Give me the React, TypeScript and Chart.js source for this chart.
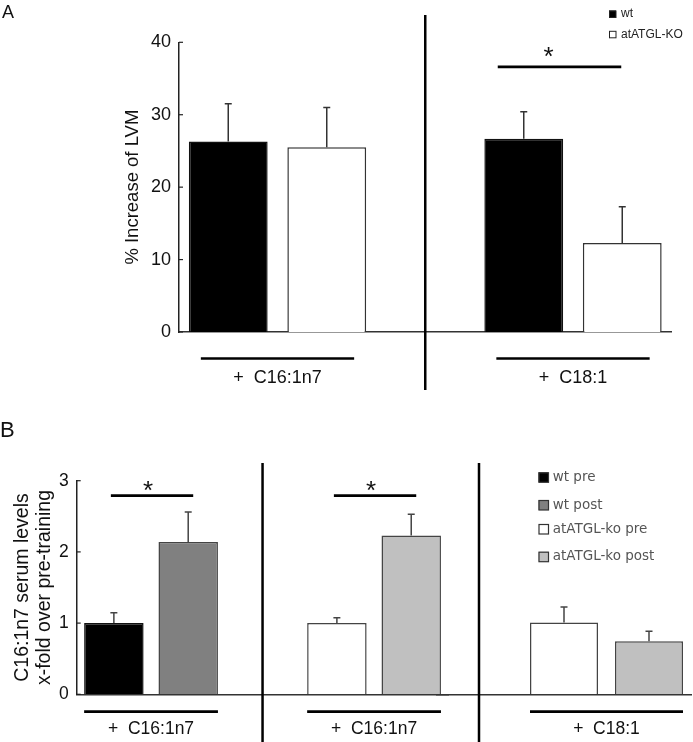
import React, { useEffect, useRef } from "react";
import { Chart, registerables } from "chart.js";

Chart.register(...registerables);

const SANS = "'Liberation Sans', Arial, Helvetica, sans-serif";
const VERD = "'DejaVu Sans', Verdana, sans-serif";

// ---------- Panel A data ----------
const groupsA = ["+  C16:1n7", "+  C18:1"];
const seriesA = ["wt", "atATGL-KO"];
const wtA = [26.3, 26.7];
const wtErrA = [5.2, 3.7];
const koA = [25.5, 12.3];
const koErrA = [5.5, 5.0];
const yTicksA = [0, 10, 20, 30, 40];
const yTitleA = "% Increase of LVM";
const sigGroupsA = [1];
const sigLevelA = 36.6;

// ---------- Panel B data ----------
const groupsB = ["+  C16:1n7", "+  C16:1n7", "+  C18:1"];
const seriesB = ["wt pre", "wt post", "atATGL-ko pre", "atATGL-ko post"];
const genotypeB = [0, 1, 1]; // 0 = wt, 1 = atATGL-ko
const preB = [1.0, 1.0, 1.01];
const preErrB = [0.145, 0.075, 0.215];
const postB = [2.14, 2.23, 0.745];
const postErrB = [0.42, 0.3, 0.14];
const yTicksB = [0, 1, 2, 3];
const yTitleB = ["C16:1n7 serum levels", "x-fold over pre-training"];
const sigGroupsB = [0, 1];
const sigLevelB = 2.79;

// ---------- colours ----------
const fillA = ["#000000", "#ffffff"];
const fillB = ["#000000", "#808080", "#ffffff", "#c0c0c0"];

type Slot = { label: string; value: number | null; err: number; fill: string };
type Group = { label: string; first: number; second: number; sig: boolean };

const GAP: Slot = { label: "", value: null, err: 0, fill: "#ffffff" };

// Build panel A slots: [wt, ko, gap, wt, ko]
const slotsA: Slot[] = [];
const groupDefsA: Group[] = [];
groupsA.forEach((g, gi) => {
  if (gi > 0) slotsA.push(GAP);
  const first = slotsA.length;
  slotsA.push({ label: `${seriesA[0]} ${g}`, value: wtA[gi], err: wtErrA[gi], fill: fillA[0] });
  slotsA.push({ label: `${seriesA[1]} ${g}`, value: koA[gi], err: koErrA[gi], fill: fillA[1] });
  groupDefsA.push({ label: g, first, second: first + 1, sig: sigGroupsA.includes(gi) });
});

function groupSlotsB(indices: number[], leadingGap: boolean) {
  const slots: Slot[] = [];
  const groups: Group[] = [];
  if (leadingGap) slots.push(GAP);
  indices.forEach((gi, k) => {
    if (k > 0) slots.push(GAP);
    const gt = genotypeB[gi];
    const first = slots.length;
    slots.push({ label: `${seriesB[gt * 2]} ${groupsB[gi]}`, value: preB[gi], err: preErrB[gi], fill: fillB[gt * 2] });
    slots.push({ label: `${seriesB[gt * 2 + 1]} ${groupsB[gi]}`, value: postB[gi], err: postErrB[gi], fill: fillB[gt * 2 + 1] });
    groups.push({ label: groupsB[gi], first, second: first + 1, sig: sigGroupsB.includes(gi) });
  });
  return { slots, groups };
}

interface PanelSpec {
  slots: Slot[];
  groups: Group[];
  yMax: number;
  yTicks: number[];
  showY: boolean;
  yTitle?: string | string[];
  yTitleSize?: number;
  yTitleLH?: number;
  yTitlePad?: number;
  yWidth?: number;
  pad: { left: number; right: number; top: number; bottom: number };
  tickFont: number;
  labelFont: number;
  groupLineDy: number;
  groupTextDy: number;
  groupLineInset: number;
  sigLevel: number;
  sigExt: [number, number];
  starDx: number;
  starDy: number;
  dividers: { slot: number; top: number; bottom: number }[];
  errColor: string;
  barStroke: string;
  extra?: (ctx: CanvasRenderingContext2D, chart: any) => void;
}

function makePanel(canvas: HTMLCanvasElement, p: PanelSpec) {
  const decor = {
    id: "decor",
    afterDraw(chart: any) {
      const ctx: CanvasRenderingContext2D = chart.ctx;
      const meta = chart.getDatasetMeta(0);
      const ys = chart.scales.y;
      const xs = chart.scales.x;
      const area = chart.chartArea;
      ctx.save();
      // inward tick marks
      if (p.showY) {
        ctx.strokeStyle = "#222";
        ctx.lineWidth = 1.2;
        ys.ticks.forEach((t: any) => {
          const y = ys.getPixelForValue(t.value);
          ctx.beginPath();
          ctx.moveTo(area.left, y);
          ctx.lineTo(area.left + 4, y);
          ctx.stroke();
        });
      }
      // error bars (upper only)
      ctx.strokeStyle = p.errColor;
      ctx.lineWidth = 1.5;
      p.slots.forEach((s, i) => {
        if (s.value == null) return;
        const bar = meta.data[i];
        const yBar = ys.getPixelForValue(s.value);
        const yTop = ys.getPixelForValue(s.value + s.err);
        ctx.beginPath();
        ctx.moveTo(bar.x, yBar);
        ctx.lineTo(bar.x, yTop);
        ctx.moveTo(bar.x - 3.5, yTop);
        ctx.lineTo(bar.x + 3.5, yTop);
        ctx.stroke();
      });
      // dividers
      ctx.strokeStyle = "#000";
      ctx.lineWidth = 2.5;
      p.dividers.forEach((d) => {
        const x = xs.getPixelForValue(d.slot);
        ctx.beginPath();
        ctx.moveTo(x, d.top);
        ctx.lineTo(x, d.bottom);
        ctx.stroke();
      });
      // group labels and significance
      p.groups.forEach((g) => {
        const b1 = meta.data[g.first];
        const b2 = meta.data[g.second];
        const l = b1.x - b1.width / 2 + p.groupLineInset;
        const r = b2.x + b2.width / 2 - p.groupLineInset;
        const ly = area.bottom + p.groupLineDy;
        ctx.strokeStyle = "#000";
        ctx.lineWidth = 2.7;
        ctx.beginPath();
        ctx.moveTo(l, ly);
        ctx.lineTo(r, ly);
        ctx.stroke();
        ctx.fillStyle = "#111";
        ctx.font = `${p.labelFont}px ${SANS}`;
        ctx.textAlign = "center";
        ctx.textBaseline = "middle";
        ctx.fillText(g.label, (b1.x + b2.x) / 2, area.bottom + p.groupTextDy);
        if (g.sig) {
          const sy = ys.getPixelForValue(p.sigLevel);
          const sl = b1.x + p.sigExt[0];
          const sr = b2.x + p.sigExt[1];
          ctx.lineWidth = 2.7;
          ctx.beginPath();
          ctx.moveTo(sl, sy);
          ctx.lineTo(sr, sy);
          ctx.stroke();
          ctx.font = `26px ${SANS}`;
          ctx.textBaseline = "alphabetic";
          ctx.fillText("*", (sl + sr) / 2 + p.starDx, sy + p.starDy);
        }
      });
      if (p.extra) p.extra(ctx, chart);
      ctx.restore();
    },
  };

  return new Chart(canvas, {
    type: "bar",
    data: {
      labels: p.slots.map((s) => s.label),
      datasets: [
        {
          data: p.slots.map((s) => s.value) as any,
          backgroundColor: p.slots.map((s) => s.fill),
          borderColor: p.slots.map((s) => (s.fill === "#000000" ? "#111" : p.barStroke)),
          borderWidth: 1.5,
          barPercentage: 0.8,
          categoryPercentage: 1,
        },
      ],
    },
    options: {
      responsive: false,
      animation: false,
      devicePixelRatio: 1,
      events: [],
      layout: { padding: p.pad },
      plugins: { legend: { display: false }, tooltip: { enabled: false } },
      scales: {
        x: {
          display: true,
          grid: { display: false, drawTicks: false },
          border: { display: true, color: "#333", width: 1.5 },
          ticks: { display: false },
          afterFit: (s: any) => {
            s.height = 0;
          },
        },
        y: {
          display: p.showY,
          min: 0,
          max: p.yMax,
          afterBuildTicks: (s: any) => {
            s.ticks = p.yTicks.map((v) => ({ value: v }));
          },
          grid: { display: false, drawTicks: false },
          border: { display: true, color: "#222", width: 1.5 },
          ticks: { padding: 8, color: "#111", font: { family: SANS, size: p.tickFont } },
          title: {
            display: !!p.yTitle,
            text: p.yTitle as any,
            color: "#111",
            font: { family: SANS, size: p.yTitleSize || 16, lineHeight: p.yTitleLH || 1.2 },
            padding: { top: p.yTitlePad || 0, bottom: 0 },
          },
          afterFit: (s: any) => {
            if (p.yWidth != null) s.width = p.yWidth;
          },
        },
      },
    } as any,
    plugins: [decor],
  });
}

export default function App() {
  const refA = useRef<HTMLCanvasElement>(null);
  const refB1 = useRef<HTMLCanvasElement>(null);
  const refB3 = useRef<HTMLCanvasElement>(null);

  useEffect(() => {
    const charts: Chart[] = [];

    // Panel A
    charts.push(
      makePanel(refA.current!, {
        slots: slotsA,
        groups: groupDefsA,
        yMax: 40,
        yTicks: yTicksA,
        showY: true,
        yTitle: yTitleA,
        yTitleSize: 18.5,
        yTitlePad: 122,
        yWidth: 179,
        pad: { left: 0, right: 21.5, top: 42.3, bottom: 68 },
        tickFont: 18,
        labelFont: 18,
        groupLineDy: 26.5,
        groupTextDy: 46,
        groupLineInset: 12,
        sigLevel: sigLevelA,
        sigExt: [-26, -1],
        starDx: -11,
        starDy: -2,
        dividers: [{ slot: 2, top: 15, bottom: 390 }],
        errColor: "#333",
        barStroke: "#333",
        extra: (ctx) => {
          ctx.fillStyle = "#111";
          ctx.font = `18px ${SANS}`;
          ctx.textAlign = "left";
          ctx.textBaseline = "alphabetic";
          ctx.fillText("A", 2, 17.5);
          seriesA.forEach((s, i) => {
            const yc = 14 + i * 20.3;
            ctx.fillStyle = fillA[i];
            ctx.fillRect(609, yc - 3.5, 7, 7);
            ctx.strokeStyle = "#222";
            ctx.lineWidth = 1;
            ctx.strokeRect(609.5, yc - 3, 6.5, 6.5);
            ctx.fillStyle = "#222";
            ctx.font = `12px ${SANS}`;
            ctx.textBaseline = "middle";
            ctx.fillText(s, 621, yc);
          });
        },
      })
    );

    // Panel B, first two groups
    const b1 = groupSlotsB([0, 1], false);
    charts.push(
      makePanel(refB1.current!, {
        slots: b1.slots,
        groups: b1.groups,
        yMax: 3,
        yTicks: yTicksB,
        showY: true,
        yTitle: yTitleB,
        yTitleSize: 19.5,
        yTitleLH: 1.15,
        yTitlePad: 11,
        yWidth: 76.7,
        pad: { left: 0, right: 244.6, top: 80.7, bottom: 47.7 },
        tickFont: 17.5,
        labelFont: 17.5,
        groupLineDy: 17.4,
        groupTextDy: 35,
        groupLineInset: 0,
        sigLevel: sigLevelB,
        sigExt: [-3, 5],
        starDx: -4,
        starDy: 3,
        dividers: [{ slot: 2, top: 63, bottom: 342 }],
        errColor: "#444",
        barStroke: "#444",
        extra: (ctx) => {
          ctx.fillStyle = "#111";
          ctx.font = `22px ${SANS}`;
          ctx.textAlign = "left";
          ctx.textBaseline = "alphabetic";
          ctx.fillText("B", 0, 36.7);
        },
      })
    );

    // Panel B, third group
    const b3 = groupSlotsB([2], true);
    charts.push(
      makePanel(refB3.current!, {
        slots: b3.slots,
        groups: b3.groups,
        yMax: 3,
        yTicks: yTicksB,
        showY: false,
        pad: { left: 436.5, right: 1.5, top: 80.7, bottom: 47.7 },
        tickFont: 17.5,
        labelFont: 17.5,
        groupLineDy: 17.4,
        groupTextDy: 35,
        groupLineInset: 0,
        sigLevel: sigLevelB,
        sigExt: [-3, 5],
        starDx: -4,
        starDy: 3,
        dividers: [{ slot: 0, top: 63, bottom: 342 }],
        errColor: "#444",
        barStroke: "#444",
        extra: (ctx) => {
          const ycs = [77.3, 105, 129, 156.7];
          seriesB.forEach((s, i) => {
            const yc = ycs[i];
            ctx.fillStyle = fillB[i];
            ctx.fillRect(538.5, yc - 5, 10, 10);
            ctx.strokeStyle = "#333";
            ctx.lineWidth = 1.2;
            ctx.strokeRect(539, yc - 4.5, 9.5, 9.5);
            ctx.fillStyle = "#555";
            ctx.font = `13.5px ${VERD}`;
            ctx.textAlign = "left";
            ctx.textBaseline = "middle";
            ctx.fillText(s, 552.7, yc);
          });
        },
      })
    );

    return () => charts.forEach((c) => c.destroy());
  }, []);

  const abs: React.CSSProperties = { position: "absolute", left: 0 };
  return (
    <div style={{ position: "absolute", left: 0, top: 0, width: 693, height: 742, background: "#fff" }}>
      <canvas ref={refA} width={693} height={400} style={{ ...abs, top: 0 }} />
      <canvas ref={refB1} width={693} height={342} style={{ ...abs, top: 400 }} />
      <canvas ref={refB3} width={693} height={342} style={{ ...abs, top: 400 }} />
    </div>
  );
}
